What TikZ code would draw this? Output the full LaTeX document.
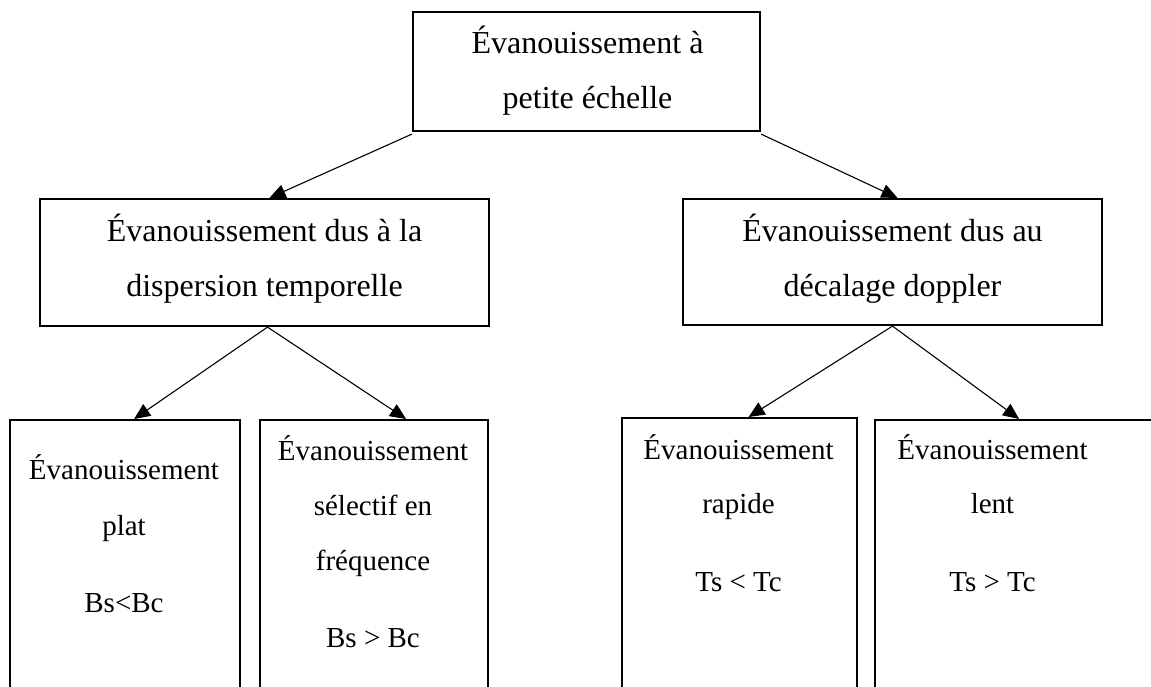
\documentclass[tikz,border=0pt]{standalone}
\usepackage{fontspec}
\setmainfont{Liberation Serif}
\usetikzlibrary{arrows.meta,calc}
\begin{document}
\begin{tikzpicture}[x=0.5pt,y=-0.5pt,
  box/.style={draw,line width=1.1pt,rectangle,inner sep=0pt},
  txt/.style={anchor=base,inner sep=0pt,font=\fontsize{14.5pt}{17pt}\selectfont},
  bigtxt/.style={txt,font=\fontsize{16pt}{19pt}\selectfont},
  link/.style={line width=0.55pt,-{Triangle[length=8pt,width=7pt]}}]
\useasboundingbox (0,0) rectangle (1151,686);
\clip (0,0) rectangle (1151,686);

% level 0
\node[box,minimum width=173.5pt,minimum height=59.5pt] (top) at (586.5,71.5) {};
\node[bigtxt] (top1) at (587.5,53) {Évanouissement à};
\node[bigtxt] (top2) at (587.5,108) {petite échelle};

% level 1
\node[box,minimum width=224.5pt,minimum height=63.5pt] (midL) at (264.5,262.5) {};
\node[bigtxt] (midL1) at (264.5,241) {Évanouissement dus à la};
\node[bigtxt] (midL2) at (264.5,296) {dispersion temporelle};

\node[box,minimum width=209.5pt,minimum height=63pt] (midR) at (892.5,262) {};
\node[bigtxt] (midR1) at (892.5,241) {Évanouissement dus au};
\node[bigtxt] (midR2) at (892.5,296) {décalage doppler};

% level 2 (boxes run past the lower edge)
\node[box,anchor=north west,minimum width=115pt,minimum height=150pt] (b1) at (9,419) {};
\node[txt] (b1a) at (124,479) {Évanouissement};
\node[txt] (b1b) at (124,535) {plat};
\node[txt] (b1c) at (124,612) {Bs<Bc};

\node[box,anchor=north west,minimum width=114pt,minimum height=150pt] (b2) at (259,419) {};
\node[txt] (b2a) at (373,460) {Évanouissement};
\node[txt] (b2b) at (373,515) {sélectif en};
\node[txt] (b2c) at (373,570) {fréquence};
\node[txt] (b2d) at (373,647) {Bs > Bc};

\node[box,anchor=north west,minimum width=117.5pt,minimum height=150pt] (b3) at (621,417) {};
\node[txt] (b3a) at (738.5,459) {Évanouissement};
\node[txt] (b3b) at (738.5,513) {rapide};
\node[txt] (b3c) at (738.5,591) {Ts < Tc};

\node[box,anchor=north west,minimum width=150pt,minimum height=150pt] (b4) at (874,419) {};
\node[txt] (b4a) at (992.5,459) {Évanouissement};
\node[txt] (b4b) at (992.5,513) {lent};
\node[txt] (b4c) at (992.5,591) {Ts > Tc};

% connectors
\draw[link] ([yshift=-1pt]top.south west) -- ([xshift=2.5pt]midL.north);
\draw[link] ([yshift=-1pt]top.south east) -- ([xshift=2.5pt]midR.north);
\draw[link] ([xshift=1.5pt]midL.south) -- ([xshift=4.5pt]b1.north);
\draw[link] ([xshift=1.5pt]midL.south) -- ([xshift=16pt]b2.north);
\draw[link] (midR.south) -- ([xshift=4.5pt]b3.north);
\draw[link] (midR.south) -- ([xshift=-3pt]b4.north);
\end{tikzpicture}
\end{document}
